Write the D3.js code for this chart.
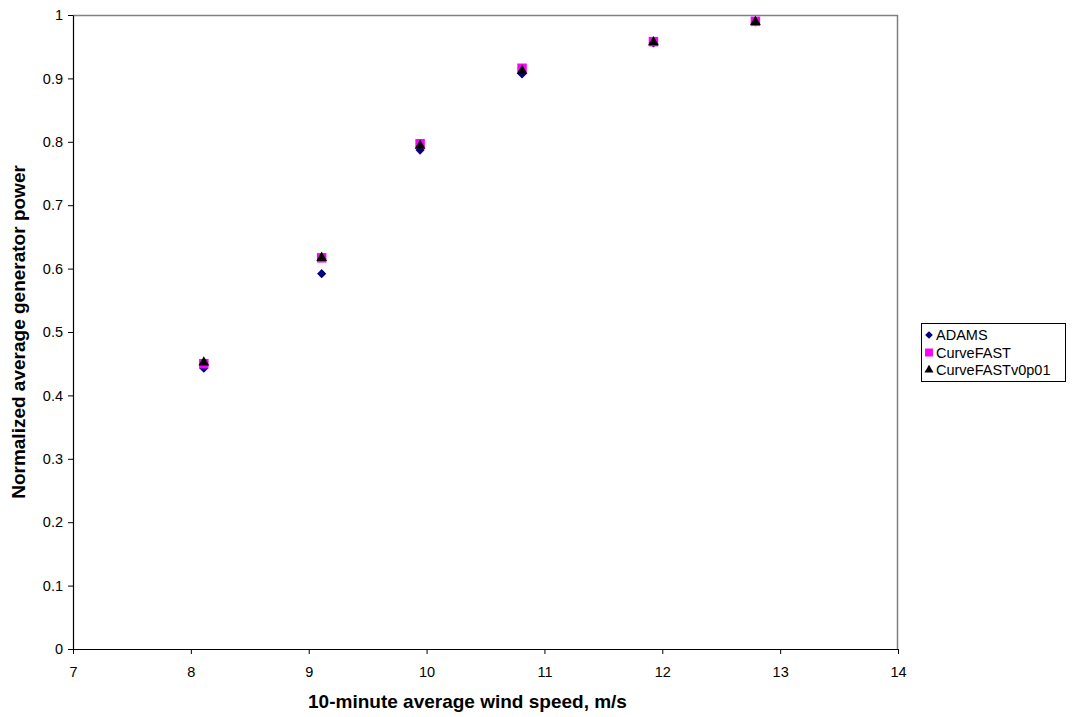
<!DOCTYPE html>
<html><head><meta charset="utf-8">
<script src="https://cdn.jsdelivr.net/npm/d3@7"></script>
<style>body{margin:0;background:#fff;}svg{display:block;font-family:"Liberation Sans",Arial,sans-serif;}</style>
</head><body>
<svg id="c" width="1076" height="717"></svg>
<script>
const windSpeed = [8.11, 9.11, 9.945, 10.81, 11.925, 12.79];
const adams = [0.443, 0.592, 0.787, 0.907, 0.956, 0.989];
const curveFast = [0.450, 0.617, 0.797, 0.916, 0.958, 0.990];
const curveFastV = [0.452, 0.617, 0.794, 0.912, 0.957, 0.989];
const seriesNames = ["ADAMS", "CurveFAST", "CurveFASTv0p01"];
const xTicks = [7, 8, 9, 10, 11, 12, 13, 14];
const yTicks = [0, 0.1, 0.2, 0.3, 0.4, 0.5, 0.6, 0.7, 0.8, 0.9, 1];

const svg = d3.select("#c");
const L = 73, R = 898, T = 15, B = 649;
const x = d3.scaleLinear().domain([7, 14]).range([L, R]);
const y = d3.scaleLinear().domain([0, 1]).range([B, T]);

svg.append("line").attr("x1", L).attr("x2", R).attr("y1", T + 0.5).attr("y2", T + 0.5).attr("stroke", "#808080").attr("stroke-width", 1.5);
svg.append("line").attr("x1", R - 0.5).attr("x2", R - 0.5).attr("y1", T).attr("y2", B).attr("stroke", "#808080").attr("stroke-width", 1.5);

const xAxis = svg.append("g").attr("transform", `translate(0,${B})`)
  .call(d3.axisBottom(x).tickValues(xTicks).tickFormat(d3.format("d")).tickSize(5).tickSizeOuter(0));
const yAxis = svg.append("g").attr("transform", `translate(${L},0)`)
  .call(d3.axisLeft(y).tickValues(yTicks).tickFormat(d => d === 0 ? "0" : d === 1 ? "1" : d3.format(".1f")(d)).tickSize(5).tickSizeOuter(0));
[xAxis, yAxis].forEach(g => {
  g.select(".domain").attr("stroke", "#000").attr("stroke-width", 1.2);
  g.selectAll(".tick line").attr("stroke", "#000");
  g.selectAll(".tick text").attr("fill", "#000").style("font-size", "14.5px").style("font-family", "Liberation Sans, Arial, sans-serif");
});
xAxis.selectAll(".tick text").attr("dy", "1.35em");
yAxis.selectAll(".tick text").attr("x", -10);

svg.append("text").attr("x", (L + R) / 2 - 18).attr("y", 708).attr("text-anchor", "middle")
  .style("font-size", "19px").style("font-weight", "bold").text("10-minute average wind speed, m/s");
svg.append("text").attr("transform", `translate(25,${(T + B) / 2}) rotate(-90)`).attr("text-anchor", "middle")
  .style("font-size", "19px").style("font-weight", "bold").text("Normalized average generator power");

const diamond = {draw(ctx, size) { const r = Math.sqrt(size / 2); ctx.moveTo(0, -r); ctx.lineTo(r, 0); ctx.lineTo(0, r); ctx.lineTo(-r, 0); ctx.closePath(); }};
const sym = [diamond, d3.symbolSquare, d3.symbolTriangle];
const sizes = [42, 90, 50];
const fills = ["#000080", "#FF00FF", "#000000"];
const data = [adams, curveFast, curveFastV];

data.forEach((vals, i) => {
  svg.append("g").selectAll("path").data(vals).join("path")
    .attr("transform", (d, j) => `translate(${x(windSpeed[j])},${y(d)})`)
    .attr("d", d3.symbol().type(sym[i]).size(sizes[i]))
    .attr("fill", fills[i]);
});

const lg = svg.append("g").attr("transform", "translate(921,323)");
lg.append("rect").attr("x", 0.5).attr("y", 0.5).attr("width", 144).attr("height", 58).attr("fill", "#fff").attr("stroke", "#000");
seriesNames.forEach((n, i) => {
  const cy = 12 + i * 17.5;
  lg.append("path").attr("transform", `translate(8,${cy})`)
    .attr("d", d3.symbol().type(sym[i]).size(sizes[i] * 0.7)).attr("fill", fills[i]);
  lg.append("text").attr("x", 15).attr("y", cy).attr("dy", "0.36em").style("font-size", "14.5px").text(n);
});
</script>
</body></html>
